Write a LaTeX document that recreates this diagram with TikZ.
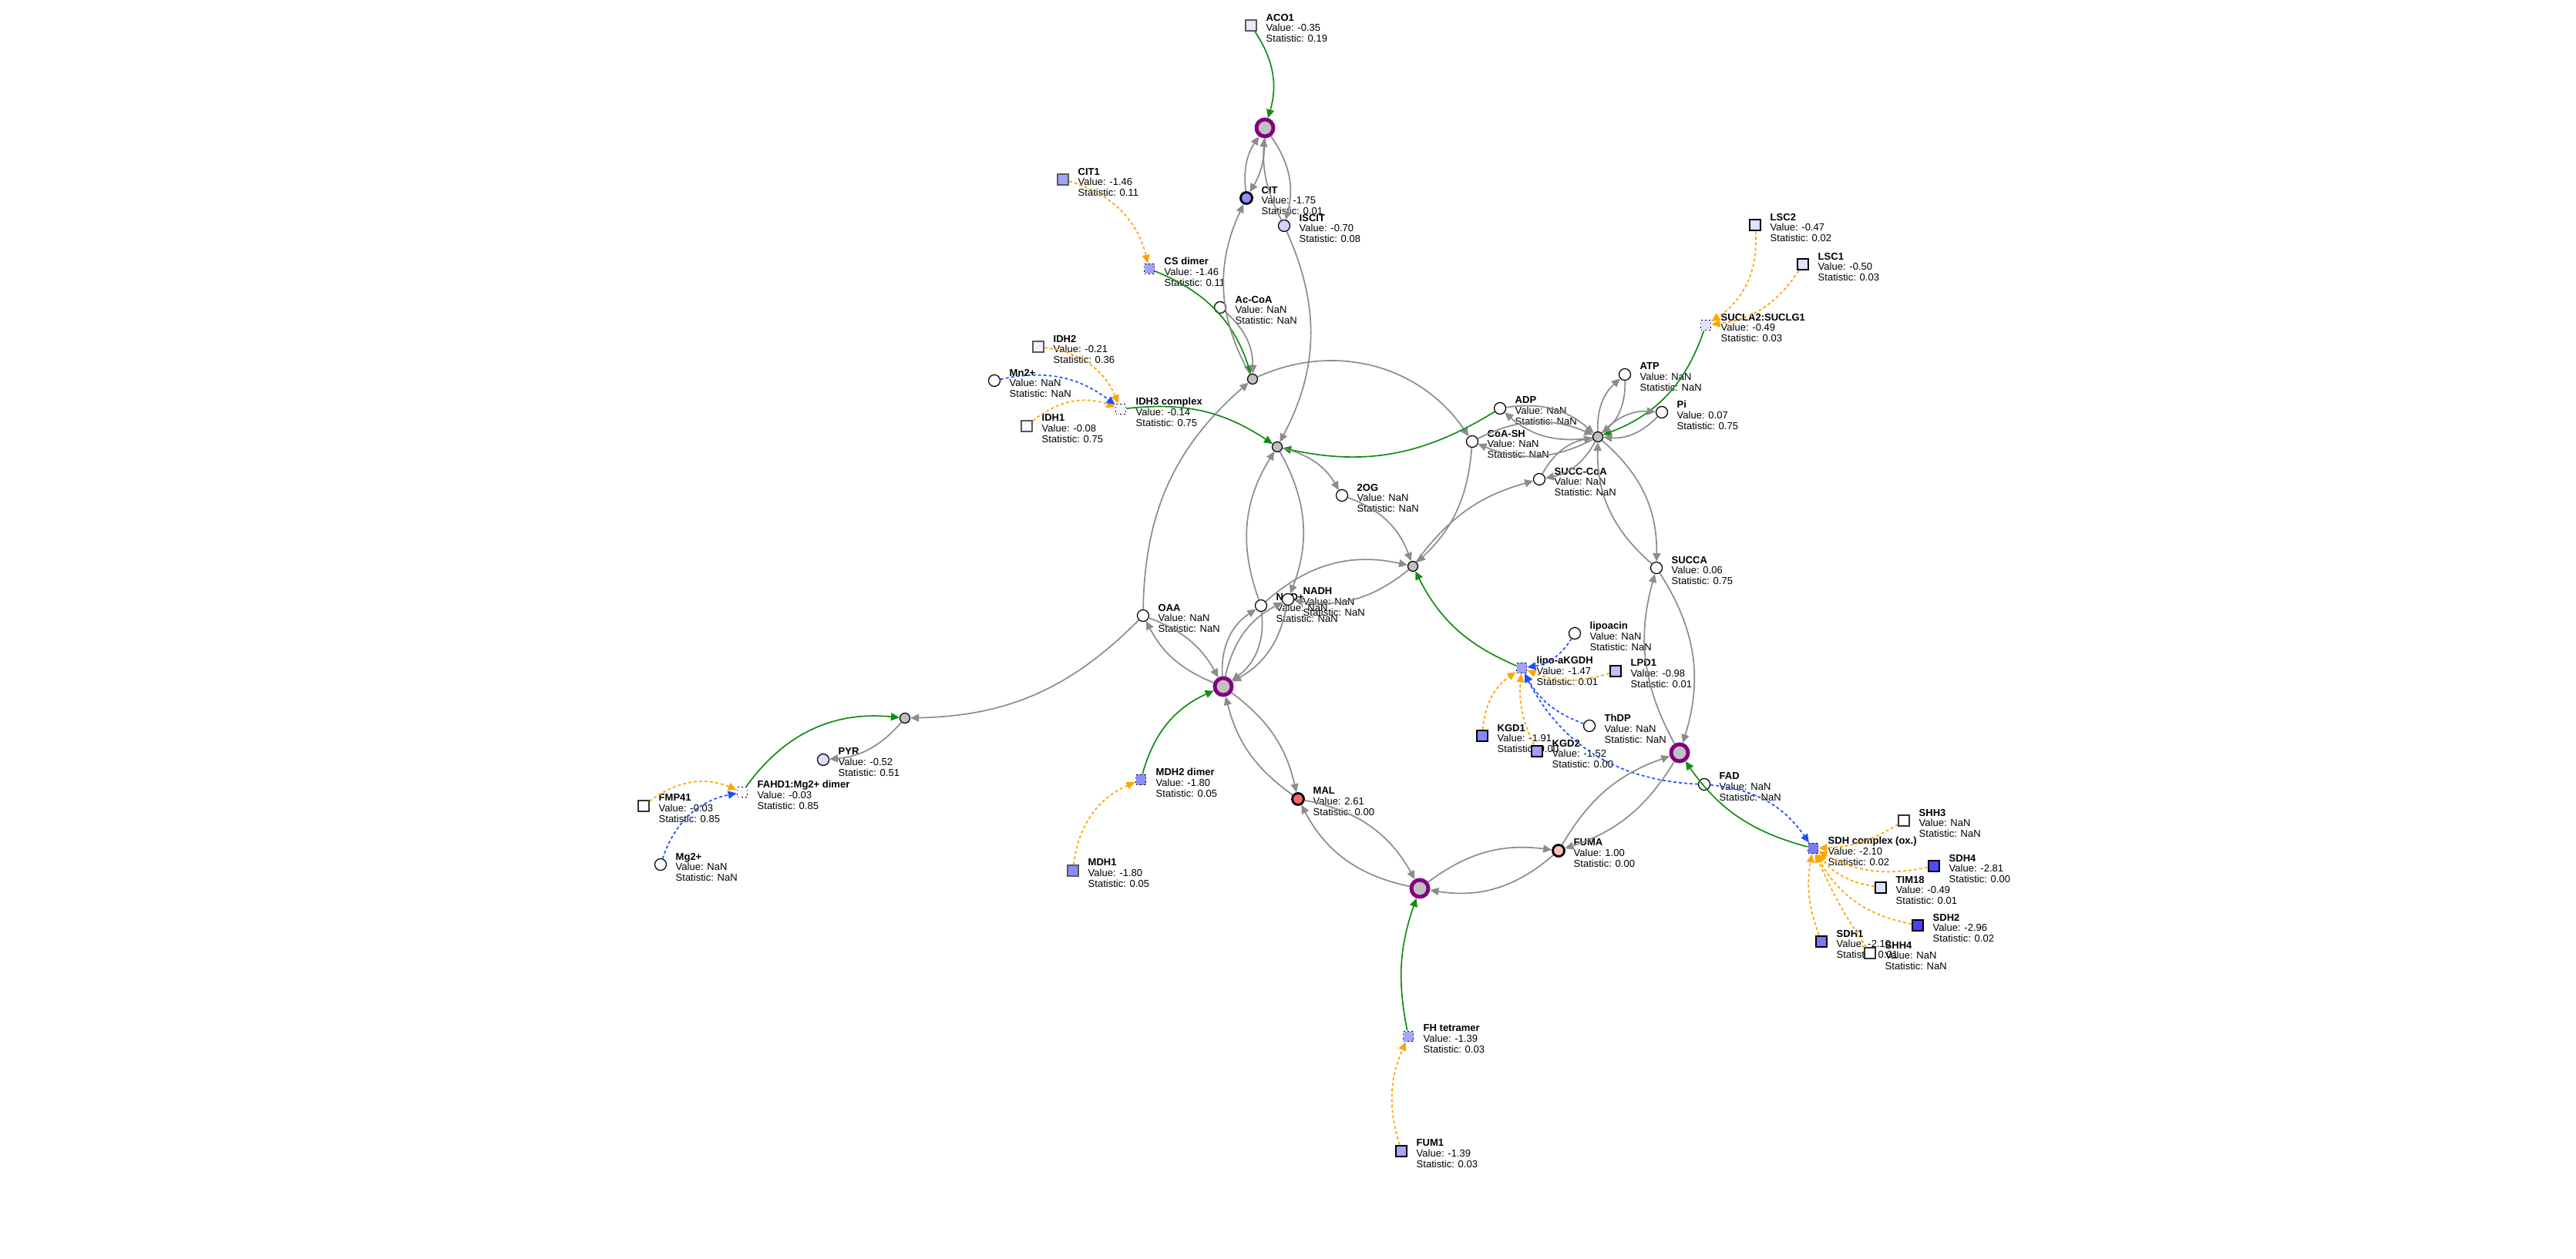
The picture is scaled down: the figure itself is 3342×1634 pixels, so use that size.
\documentclass[tikz,border=0pt]{standalone}
\usepackage{fontspec}
\setmainfont{Liberation Sans}
\usepackage{tikz}
\usetikzlibrary{arrows.meta,positioning,calc}
\definecolor{edgegray}{HTML}{8C8C8C}
\definecolor{catgreen}{HTML}{148C14}
\definecolor{partorange}{HTML}{FFA500}
\definecolor{cofblue}{HTML}{1F4FFF}
\definecolor{rxnpurple}{HTML}{800080}
\definecolor{rxngray}{HTML}{C0C0C0}
\tikzset{
	met/.style={circle, draw, line width=0.35pt, minimum size=0.15cm, inner sep=0pt, fill=white},
	prot/.style={rectangle, draw=black!65, line width=0.45pt, minimum size=0.14cm, inner sep=0pt, fill=white},
	cplx/.style={rectangle, draw, densely dotted, line width=0.5pt, minimum size=0.13cm, inner sep=0pt},
	sig/.style={draw=black, line width=0.8pt},
	rxn/.style={circle, draw, line width=0.35pt, fill=rxngray, minimum size=0.13cm, inner sep=0pt},
	prxn/.style={circle, draw=rxnpurple, line width=1.4pt, fill=rxngray, minimum size=0.22cm, inner sep=0pt},
	lbl/.style={align=left, inner sep=0pt, anchor=west, font=\fontsize{3.7}{3.97}\selectfont},
	tip/.style={-{Triangle[length=1.1mm, width=1mm]}, line width=0.48pt},
	flow/.style={tip, edgegray},
	cat/.style={tip, catgreen},
	part/.style={tip, partorange, dash pattern=on 1.1pt off 0.9pt},
	cof/.style={tip, cofblue, dash pattern=on 1.1pt off 0.9pt}
}
\newcommand{\info}[4]{\node[lbl] (#1-l) at ([shift={(19,-3.5)}]#1.center) {\textbf{#2}\\Value: #3\\Statistic: #4};}

\begin{document}
\begin{tikzpicture}[x=0.01cm, y=0.01cm]
	\useasboundingbox (0,0) rectangle (3342,-1634);
	\fill[white] (0,0) rectangle (3342,-1634);
	
	% reactions
	\node[prxn] (rAco) at (1641,-166) {};
	\node[rxn] (rCs) at (1625,-492) {};
	\node[rxn] (rIdh) at (1657,-580) {};
	\node[rxn] (rSucl) at (2073,-567) {};
	\node[rxn] (rOg) at (1833,-735) {};
	\node[prxn] (rMdh) at (1587,-891) {};
	\node[prxn] (rSdh) at (2179,-977) {};
	\node[prxn] (rFh) at (1842,-1153) {};
	\node[rxn] (rFahd) at (1174,-932) {};
	
	% metabolites
	\node[met, sig, fill=blue!44] (cit) at (1617,-257) {}; \info{cit}{CIT}{-1.75}{0.01}
	\node[met, fill=blue!18] (iscit) at (1666,-293) {}; \info{iscit}{ISCIT}{-0.70}{0.08}
	\node[met] (acoa) at (1583,-399) {}; \info{acoa}{Ac-CoA}{NaN}{NaN}
	\node[met] (mn) at (1290,-494) {}; \info{mn}{Mn2+}{NaN}{NaN}
	\node[met] (atp) at (2108,-486) {}; \info{atp}{ATP}{NaN}{NaN}
	\node[met] (adp) at (1946,-530) {}; \info{adp}{ADP}{NaN}{NaN}
	\node[met, fill=red!4] (pi) at (2156,-535) {}; \info{pi}{Pi}{0.07}{0.75}
	\node[met] (coash) at (1910,-573) {}; \info{coash}{CoA-SH}{NaN}{NaN}
	\node[met] (succoa) at (1997,-622) {}; \info{succoa}{SUCC-CoA}{NaN}{NaN}
	\node[met] (og) at (1741,-643) {}; \info{og}{2OG}{NaN}{NaN}
	\node[met, fill=red!2] (succa) at (2149,-737) {}; \info{succa}{SUCCA}{0.06}{0.75}
	\node[met] (oaa) at (1483,-799) {}; \info{oaa}{OAA}{NaN}{NaN}
	\node[met] (nad) at (1636,-786) {}; \info{nad}{NAD+}{NaN}{NaN}
	\node[met] (nadh) at (1671,-778) {}; \info{nadh}{NADH}{NaN}{NaN}
	\node[met] (lipoacin) at (2043,-822) {}; \info{lipoacin}{lipoacin}{NaN}{NaN}
	\node[met] (thdp) at (2062,-942) {}; \info{thdp}{ThDP}{NaN}{NaN}
	\node[met] (fad) at (2211,-1018) {}; \info{fad}{FAD}{NaN}{NaN}
	\node[met, fill=blue!13] (pyr) at (1068,-986) {}; \info{pyr}{PYR}{-0.52}{0.51}
	\node[met] (mg) at (857,-1122) {}; \info{mg}{Mg2+}{NaN}{NaN}
	\node[met, sig, fill=red!60] (mal) at (1684,-1037) {}; \info{mal}{MAL}{2.61}{0.00}
	\node[met, sig, fill=red!25] (fuma) at (2022,-1104) {}; \info{fuma}{FUMA}{1.00}{0.00}
	
	% proteins
	\node[prot, fill=blue!9] (aco1) at (1623,-33) {}; \info{aco1}{ACO1}{-0.35}{0.19}
	\node[prot, fill=blue!37, line width=0.6pt] (cit1) at (1379,-233) {}; \info{cit1}{CIT1}{-1.46}{0.11}
	\node[prot, fill=blue!5, line width=0.6pt] (idh2) at (1347,-450) {}; \info{idh2}{IDH2}{-0.21}{0.36}
	\node[prot, fill=blue!3, line width=0.6pt] (idh1) at (1332,-553) {}; \info{idh1}{IDH1}{-0.08}{0.75}
	\node[prot, sig, fill=blue!12] (lsc2) at (2277,-292) {}; \info{lsc2}{LSC2}{-0.47}{0.02}
	\node[prot, sig, fill=blue!12] (lsc1) at (2339,-343) {}; \info{lsc1}{LSC1}{-0.50}{0.03}
	\node[prot, sig, fill=blue!25] (lpd1) at (2096,-871) {}; \info{lpd1}{LPD1}{-0.98}{0.01}
	\node[prot, sig, fill=blue!48] (kgd1) at (1923,-955) {}; \info{kgd1}{KGD1}{-1.91}{0.00}
	\node[prot, sig, fill=blue!38] (kgd2) at (1994,-975) {}; \info{kgd2}{KGD2}{-1.52}{0.00}
	\node[prot, draw=black!80, fill=blue!1] (fmp41) at (835,-1046) {}; \info{fmp41}{FMP41}{-0.03}{0.85}
	\node[prot, fill=blue!45] (mdh1) at (1392,-1130) {}; \info{mdh1}{MDH1}{-1.80}{0.05}
	\node[prot, sig, fill=blue!35] (fum1) at (1818,-1494) {}; \info{fum1}{FUM1}{-1.39}{0.03}
	\node[prot, draw=black!80] (shh3) at (2470,-1065) {}; \info{shh3}{SHH3}{NaN}{NaN}
	\node[prot, sig, fill=blue!70] (sdh4) at (2509,-1124) {}; \info{sdh4}{SDH4}{-2.81}{0.00}
	\node[prot, sig, fill=blue!12] (tim18) at (2440,-1152) {}; \info{tim18}{TIM18}{-0.49}{0.01}
	\node[prot, sig, fill=blue!74] (sdh2) at (2488,-1201) {}; \info{sdh2}{SDH2}{-2.96}{0.02}
	\node[prot, sig, fill=blue!53] (sdh1) at (2363,-1222) {}; \info{sdh1}{SDH1}{-2.10}{0.01}
	\node[prot, draw=black!80] (shh4) at (2426,-1237) {}; \info{shh4}{SHH4}{NaN}{NaN}
	
	% complexes
	\node[cplx, fill=blue!37] (csd) at (1491,-349) {}; \info{csd}{CS dimer}{-1.46}{0.11}
	\node[cplx, fill=blue!4] (idh3) at (1454,-531) {}; \info{idh3}{IDH3 complex}{-0.14}{0.75}
	\node[cplx, fill=blue!12] (sucl) at (2213,-422) {}; \info{sucl}{SUCLA2:SUCLG1}{-0.49}{0.03}
	\node[cplx, fill=blue!37] (lipo) at (1974,-867) {}; \info{lipo}{lipo-aKGDH}{-1.47}{0.01}
	\node[cplx, fill=blue!52] (sdhc) at (2352,-1101) {}; \info{sdhc}{SDH complex (ox.)}{-2.10}{0.02}
	\node[cplx, fill=blue!1] (fahd) at (963,-1028) {}; \info{fahd}{FAHD1:Mg2+ dimer}{-0.03}{0.85}
	\node[cplx, fill=blue!45] (mdh2) at (1480,-1012) {}; \info{mdh2}{MDH2 dimer}{-1.80}{0.05}
	\node[cplx, fill=blue!35] (fh) at (1827,-1345) {}; \info{fh}{FH tetramer}{-1.39}{0.03}
	
	% aconitase
	\draw[cat] (aco1) to[bend left=25] (rAco);
	\draw[flow] (cit) to[bend left=20] (rAco);
	\draw[flow] (rAco) to[bend left=15] (cit);
	\draw[flow] (iscit) to[bend left=15] (rAco);
	\draw[flow] (rAco) to[bend left=25] (iscit);
	
	% citrate synthase
	\draw[part] (cit1) to[bend left=30] (csd);
	\draw[cat] (csd) to[bend left=25] (rCs);
	\draw[flow] (acoa) to[bend left=25] (rCs);
	\draw[flow] (oaa) to[bend left=24] (rCs);
	\draw[flow] (rCs) to[bend left=27] (cit);
	\draw[flow] (rCs) to[bend left=40] (coash);
	
	% isocitrate dehydrogenase
	\draw[part] (idh2) to[bend left=30] (idh3);
	\draw[part] (idh1) to[bend left=30] (idh3);
	\draw[cof] (mn) to[bend left=25] (idh3);
	\draw[cat] (idh3) to[bend left=20] (rIdh);
	\draw[cat] (adp) to[bend left=22] (rIdh);
	\draw[flow] (iscit) to[bend left=26] (rIdh);
	\draw[flow] (nad) to[bend left=26] (rIdh);
	\draw[flow] (rIdh) to[bend left=25] (nadh);
	\draw[flow] (rIdh) to[bend left=23] (og);
	
	% 2OG dehydrogenase
	\draw[part] (kgd1) to[bend left=25] (lipo);
	\draw[part] (kgd2) to[bend left=15] (lipo);
	\draw[part] (lpd1) to[bend left=20] (lipo);
	\draw[cof] (lipoacin) to[bend left=25] (lipo);
	\draw[cof] (thdp) to[bend left=20] (lipo);
	\draw[cof] (fad) to[bend left=30] (lipo);
	\draw[cat] (lipo) to[bend left=20] (rOg);
	\draw[flow] (og) to[bend left=25] (rOg);
	\draw[flow] (coash) to[bend left=21] (rOg);
	\draw[flow] (nad) to[bend left=27] (rOg);
	\draw[flow] (rOg) to[bend left=24] (nadh);
	\draw[flow] (rOg) to[bend left=19] (succoa);
	
	% succinyl-CoA synthetase
	\draw[part] (lsc2) to[bend left=30] (sucl);
	\draw[part] (lsc1) to[bend left=25] (sucl);
	\draw[cat] (sucl) to[bend left=25] (rSucl);
	\foreach \m in {succoa,adp,pi,atp,coash,succa}{
		\draw[flow] (\m) to[bend left=25] (rSucl);
		\draw[flow] (rSucl) to[bend left=25] (\m);
	}
	
	% succinate dehydrogenase
	\foreach \p/\b in {shh3/15,sdh4/20,tim18/20,sdh2/25,sdh1/15,shh4/5}
		\draw[part] (\p) to[bend left=\b] (sdhc);
	\draw[cof] (fad) to[bend left=25] (sdhc);
	\draw[cat] (sdhc) to[bend left=20] (rSdh);
	\draw[flow] (succa) to[bend left=25] (rSdh);
	\draw[flow] (rSdh) to[bend left=22] (succa);
	\draw[flow] (fuma) to[bend left=20] (rSdh);
	\draw[flow] (rSdh) to[bend left=20] (fuma);
	
	% fumarase
	\draw[part] (fum1) to[bend left=20] (fh);
	\draw[cat] (fh) to[bend left=15] (rFh);
	\draw[flow] (fuma) to[bend left=25] (rFh);
	\draw[flow] (rFh) to[bend left=22] (fuma);
	\draw[flow] (mal) to[bend left=25] (rFh);
	\draw[flow] (rFh) to[bend left=25] (mal);
	
	% malate dehydrogenase
	\draw[part] (mdh1) to[bend left=30] (mdh2);
	\draw[cat] (mdh2) to[bend left=25] (rMdh);
	\foreach \m/\b in {mal/20,oaa/20,nad/30,nadh/25}{
		\draw[flow] (\m) to[bend left=\b] (rMdh);
		\draw[flow] (rMdh) to[bend left=\b] (\m);
	}
	
	% oxaloacetate hydrolase
	\draw[part] (fmp41) to[bend left=30] (fahd);
	\draw[cof] (mg) to[bend left=30] (fahd);
	\draw[cat] (fahd) to[bend left=30] (rFahd);
	\draw[flow] (oaa) to[bend left=22] (rFahd);
	\draw[flow] (rFahd) to[bend left=22] (pyr);
\end{tikzpicture}
\end{document}
